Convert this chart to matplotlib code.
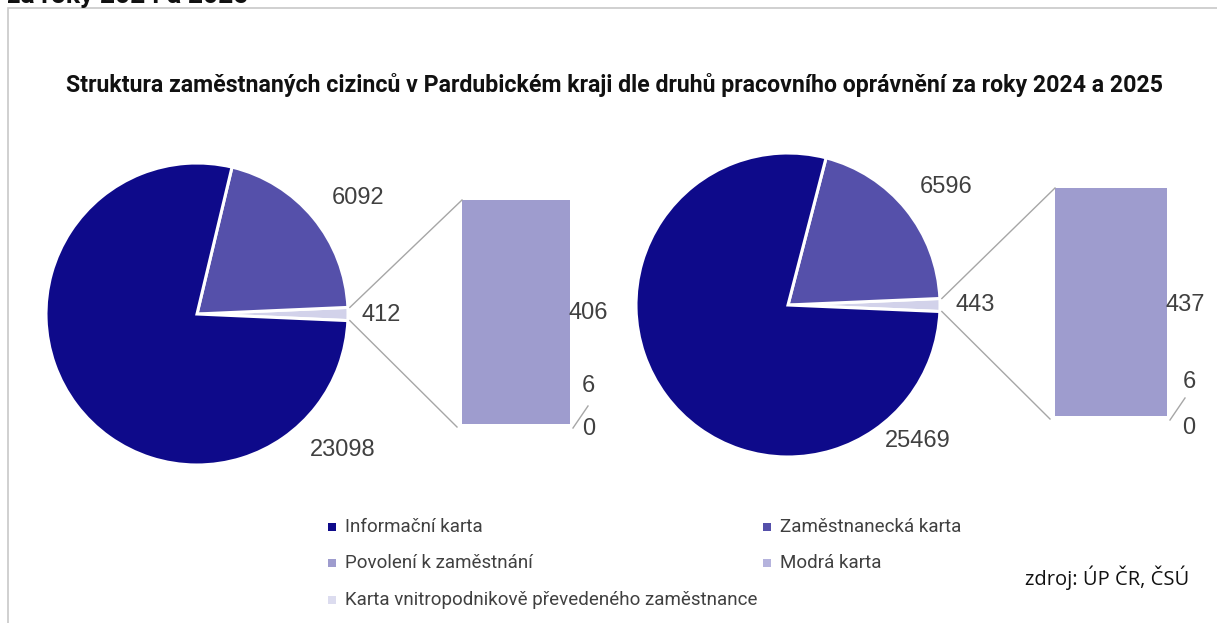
import numpy as np
import matplotlib
matplotlib.use("Agg")
import matplotlib.pyplot as plt
from matplotlib.patches import Rectangle

# ---- data ----
categories = ["Informační karta", "Zaměstnanecká karta", "Povolení k zaměstnání",
              "Modrá karta", "Karta vnitropodnikově převedeného zaměstnance"]
values_2024 = [23098, 6092, 406, 6, 0]
values_2025 = [25469, 6596, 437, 6, 0]
other_2024 = 412
other_2025 = 443
colors = ["#0e0a8a", "#5550aa", "#9e9cce", "#b5b3dd", "#dcdcef"]
other_color = "#d2d2ea"
title = "Struktura zaměstnaných cizinců v Pardubickém kraji dle druhů pracovního oprávnění za roky 2024 a 2025"

W, H = 1217, 623
fig = plt.figure(figsize=(W / 100, H / 100), dpi=100)
ax = fig.add_axes([0, 0, 1, 1])
ax.set_xlim(0, W)
ax.set_ylim(0, H)
ax.set_aspect("equal")
ax.axis("off")

def Y(y):
    return H - y

# frame
ax.add_patch(Rectangle((8, -5), W + 10, Y(8) + 5, fill=False, edgecolor="#c8c8c8", lw=1.2))
# cut-off heading at very top
fig.text(0.006, 1 - 3 / H, "za roky 2024 a 2025", fontsize=19, fontweight="bold",
         family="Roboto", va="baseline", ha="left", color="#111111")

fig.text(614 / W, 1 - 85 / H, title, fontsize=16.7, fontweight="bold", family="Roboto",
         ha="center", va="center", color="#111111")

lbl_kw = dict(fontsize=17, color="#404040", family="Liberation Sans", va="center")

def pie_of_bar(cx, cy, r, vals, other, bar_x0, bar_x1, bar_top, bar_bot, labpos):
    main = [other, vals[1], vals[0]]
    total = sum(main)
    half = other / total * 180.0
    ax.pie(main, colors=[other_color, colors[1], colors[0]], startangle=-half,
           counterclock=True, center=(cx, Y(cy)), radius=r,
           wedgeprops=dict(edgecolor="white", linewidth=2.2), frame=True)
    # stacked bar of the "other" part
    scale = (bar_bot - bar_top) / other
    bottom = Y(bar_bot)
    order = [4, 3, 2]
    for i in order:
        hgt = vals[i] * scale
        ax.bar((bar_x0 + bar_x1) / 2, hgt, width=bar_x1 - bar_x0, bottom=bottom,
               color=colors[2], edgecolor="none", linewidth=0)
        bottom += hgt
    # connector lines
    a = np.deg2rad(half)
    ex, ey_t, ey_b = cx + r * np.cos(a) + 2, cy - r * np.sin(a), cy + r * np.sin(a)
    ax.plot([ex, bar_x0], [Y(ey_t), Y(bar_top)], color="#a6a6a6", lw=1)
    ax.plot([ex, bar_x0 - 5], [Y(ey_b), Y(bar_bot + 3)], color="#a6a6a6", lw=1)
    # labels
    (p_zam, p_oth, p_inf, p_big, p_six, p_zero) = labpos
    ax.text(*p_zam, f"{vals[1]}", ha="center", **lbl_kw)
    ax.text(*p_oth, f"{other}", ha="center", **lbl_kw)
    ax.text(*p_inf, f"{vals[0]}", ha="center", **lbl_kw)
    ax.text(*p_big, f"{vals[2]}", ha="center", **lbl_kw)
    ax.text(*p_six, f"{vals[3]}", ha="center", **lbl_kw)
    ax.text(*p_zero, f"{vals[4]}", ha="center", **lbl_kw)
    # leader line for small segments
    ax.plot([bar_x1 + 3, bar_x1 + 18], [Y(bar_bot + 4), Y(bar_bot - 18)], color="#a6a6a6", lw=1)

pie_of_bar(197, 314, 151, values_2024, other_2024, 462, 570, 200, 424,
           [(358, Y(198)), (381, Y(315)), (343, Y(450)), (588, Y(313)), (588, Y(386)), (589, Y(429))])
pie_of_bar(788, 305, 152, values_2025, other_2025, 1055, 1167, 188, 416,
           [(946, Y(187)), (975, Y(305)), (918, Y(441)), (1185, Y(305)), (1189, Y(382)), (1189, Y(428))])
ax.set_xlim(0, W)
ax.set_ylim(0, H)
ax.axis("off")

# legend
leg_pos = [(332, 527), (767, 527), (332, 563), (767, 563), (332, 600)]
for (lx, ly), name, c in zip(leg_pos, categories, colors):
    ax.add_patch(Rectangle((lx - 4, Y(ly) - 4), 8, 8, facecolor=c, edgecolor="none"))
    ax.text(lx + 13, Y(ly), name, fontsize=13.5, family="Roboto", color="#404040",
            va="center", ha="left")

fig.text(1107 / W, 1 - 578 / H, "zdroj: ÚP ČR, ČSÚ", fontsize=14.5, family="Open Sans",
         ha="center", va="center", color="#111111")

fig.savefig("out.png", dpi=100)
